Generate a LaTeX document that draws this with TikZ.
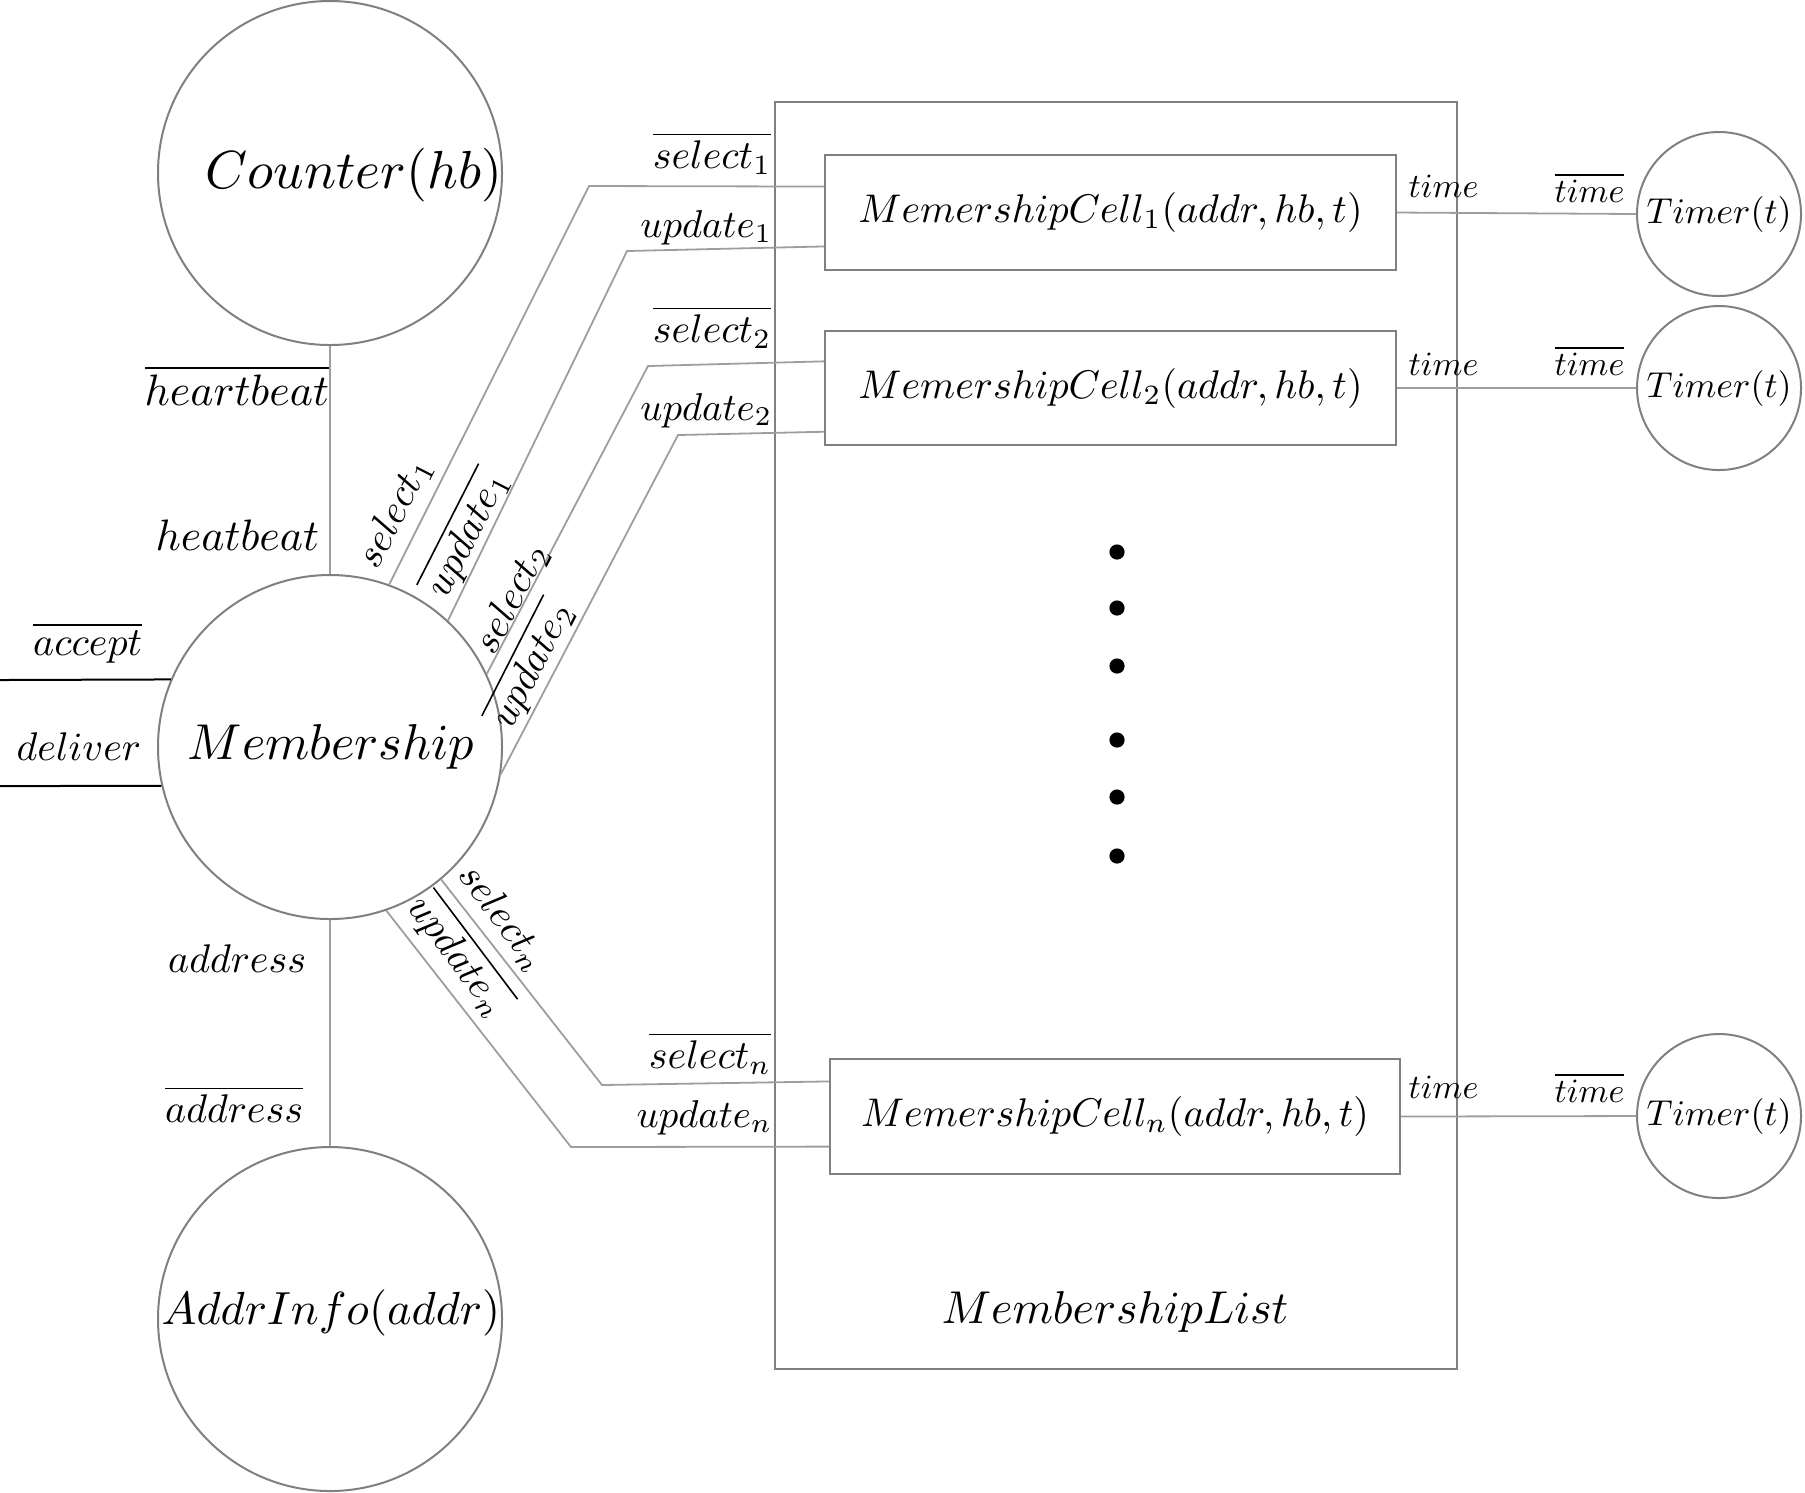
\documentclass[tikz,border=0pt]{standalone}
\usetikzlibrary{calc}
\begin{document}
\tikzset{
  x=0.25pt, y=-0.25pt,
  circ/.style={circle, draw=black!50, line width=0.5pt, inner sep=0pt},
  cellbox/.style={rectangle, draw=black!50, line width=0.5pt, inner sep=0pt,
    minimum width=142.75pt, minimum height=28.75pt},
  conn/.style={draw=black!38, line width=0.45pt},
  blk/.style={draw=black, line width=0.5pt},
  lbl/.style={inner sep=0pt},
  smalllbl/.style={inner sep=0pt, scale=0.85},
  dotnode/.style={circle, fill=black, inner sep=0pt, minimum size=3.8pt},
  timer/.style={circ, minimum size=45.56pt, scale=0.9},
}
\begin{tikzpicture}
\useasboundingbox (0,0) rectangle (1805,1492);

% left column circles
\node[circ, minimum size=86pt] (counter) at (330,173) {};
\node[lbl, scale=1.34] (countertxt) at (354,175) {$Counter(hb)$};
\node[circ, minimum size=86pt] (mem) at (330,747) {};
\node[lbl, scale=1.26] (memtxt) at (331,747) {$Membership$};
\node[circ, minimum size=86pt] (addr) at (330,1319) {};
\node[lbl, scale=1.16] (addrtxt) at (331,1313) {$AddrInfo(addr)$};

% membership list
\node[draw=black!50, line width=0.5pt, inner sep=0pt, minimum width=170.5pt, minimum height=316.75pt] (list) at (1116,735.5) {};
\node[lbl, scale=1.15] (listname) at (1115,1312) {$MembershipList$};

\node[cellbox] (cell1) at (1110.5,212.5) {$MemershipCell_1(addr,hb,t)$};
\node[cellbox, minimum height=28.5pt] (cell2) at (1110.5,388) {$MemershipCell_2(addr,hb,t)$};
\node[cellbox, minimum width=142.5pt] (celln) at (1115,1116.5) {$MemershipCell_n(addr,hb,t)$};

\foreach \i/\yy in {1/552,2/608,3/666,4/740,5/797,6/856}
  \node[dotnode] (dot\i) at (1117,\yy) {};

% timers
\node[timer] (timer1) at (1719,214) {$Timer(t)$};
\node[timer] (timer2) at (1719,388) {$Timer(t)$};
\node[timer] (timern) at (1719,1116) {$Timer(t)$};

% vertical connectors
\draw[conn] (counter.south) -- (mem.north);
\draw[conn] (mem.south) -- (addr.north);

% bend points
\coordinate (b1) at (589,186);
\coordinate (b2) at (627,251);
\coordinate (b3) at (648,366);
\coordinate (b4) at (678,435);
\coordinate (b5) at (602,1085);
\coordinate (b6) at (571,1147);

\draw[conn] (mem.70) -- (b1) -- ($(cell1.north west)!0.278!(cell1.south west)$);
\draw[conn] (mem.47) -- (b2) -- ($(cell1.north west)!0.79!(cell1.south west)$);
\draw[conn] (mem.25) -- (b3) -- ($(cell2.north west)!0.27!(cell2.south west)$);
\draw[conn] (mem.-9) -- (b4) -- ($(cell2.north west)!0.877!(cell2.south west)$);
\draw[conn] (mem.-50) -- (b5) -- ($(celln.north west)!0.2!(celln.south west)$);
\draw[conn] (mem.-71) -- (b6) -- ($(celln.north west)!0.757!(celln.south west)$);

\draw[conn] (cell1.east) -- (timer1.west);
\draw[conn] (cell2.east) -- (timer2.west);
\draw[conn] (celln.east) -- (timern.west);

% accept / deliver
\coordinate (accL) at (0,680);
\coordinate (delL) at (0,786);
\draw[blk] (accL) -- (mem.157);
\draw[blk] (delL) -- (mem.193);
\node[lbl, anchor=base east] (acc) at (143,655) {$\overline{accept}$};
\node[lbl, anchor=base east] (del) at (142,760) {$deliver$};

% heartbeat / address labels
\node[lbl, scale=1.1, anchor=base east] (hb1) at (330,405) {$\overline{heartbeat}$};
\node[lbl, scale=1.1, anchor=base east] (hb2) at (320,550) {$heatbeat$};
\node[lbl, anchor=base east] (ad1) at (307,972) {$address$};
\node[lbl, anchor=base east] (ad2) at (304,1122) {$\overline{address}$};

% labels at the list side
\node[lbl, anchor=base east] (ls1) at (772,168) {$\overline{select_1}$};
\node[lbl, scale=0.97, anchor=base east] (lu1) at (773,237) {$update_1$};
\node[lbl, anchor=base east] (ls2) at (772,342) {$\overline{select_2}$};
\node[lbl, scale=0.97, anchor=base east] (lu2) at (773,420) {$update_2$};
\node[lbl, anchor=base east] (lsn) at (772,1068) {$\overline{select_n}$};
\node[lbl, scale=0.97, anchor=base east] (lun) at (773,1127) {$update_n$};

% rotated labels near Membership
\node[lbl, rotate=63] (rs1) at (395,513) {$select_1$};
\node[lbl, rotate=63] (ru1) at (465,533) {$\overline{update_1}$};
\node[lbl, rotate=63] (rs2) at (512,599) {$select_2$};
\node[lbl, rotate=63] (ru2) at (530,664) {$\overline{update_2}$};
\node[lbl, rotate=-53] (rsn) at (503,918) {$select_n$};
\node[lbl, rotate=-53] (run) at (460,955) {$\overline{update_n}$};

% time labels
\node[smalllbl, anchor=base west] (t1) at (1408,197) {$time$};
\node[smalllbl, anchor=base east] (tb1) at (1625,202) {$\overline{time}$};
\node[smalllbl, anchor=base west] (t2) at (1408,375) {$time$};
\node[smalllbl, anchor=base east] (tb2) at (1625,375) {$\overline{time}$};
\node[smalllbl, anchor=base west] (tn) at (1408,1098) {$time$};
\node[smalllbl, anchor=base east] (tbn) at (1625,1102) {$\overline{time}$};
\end{tikzpicture}
\end{document}
